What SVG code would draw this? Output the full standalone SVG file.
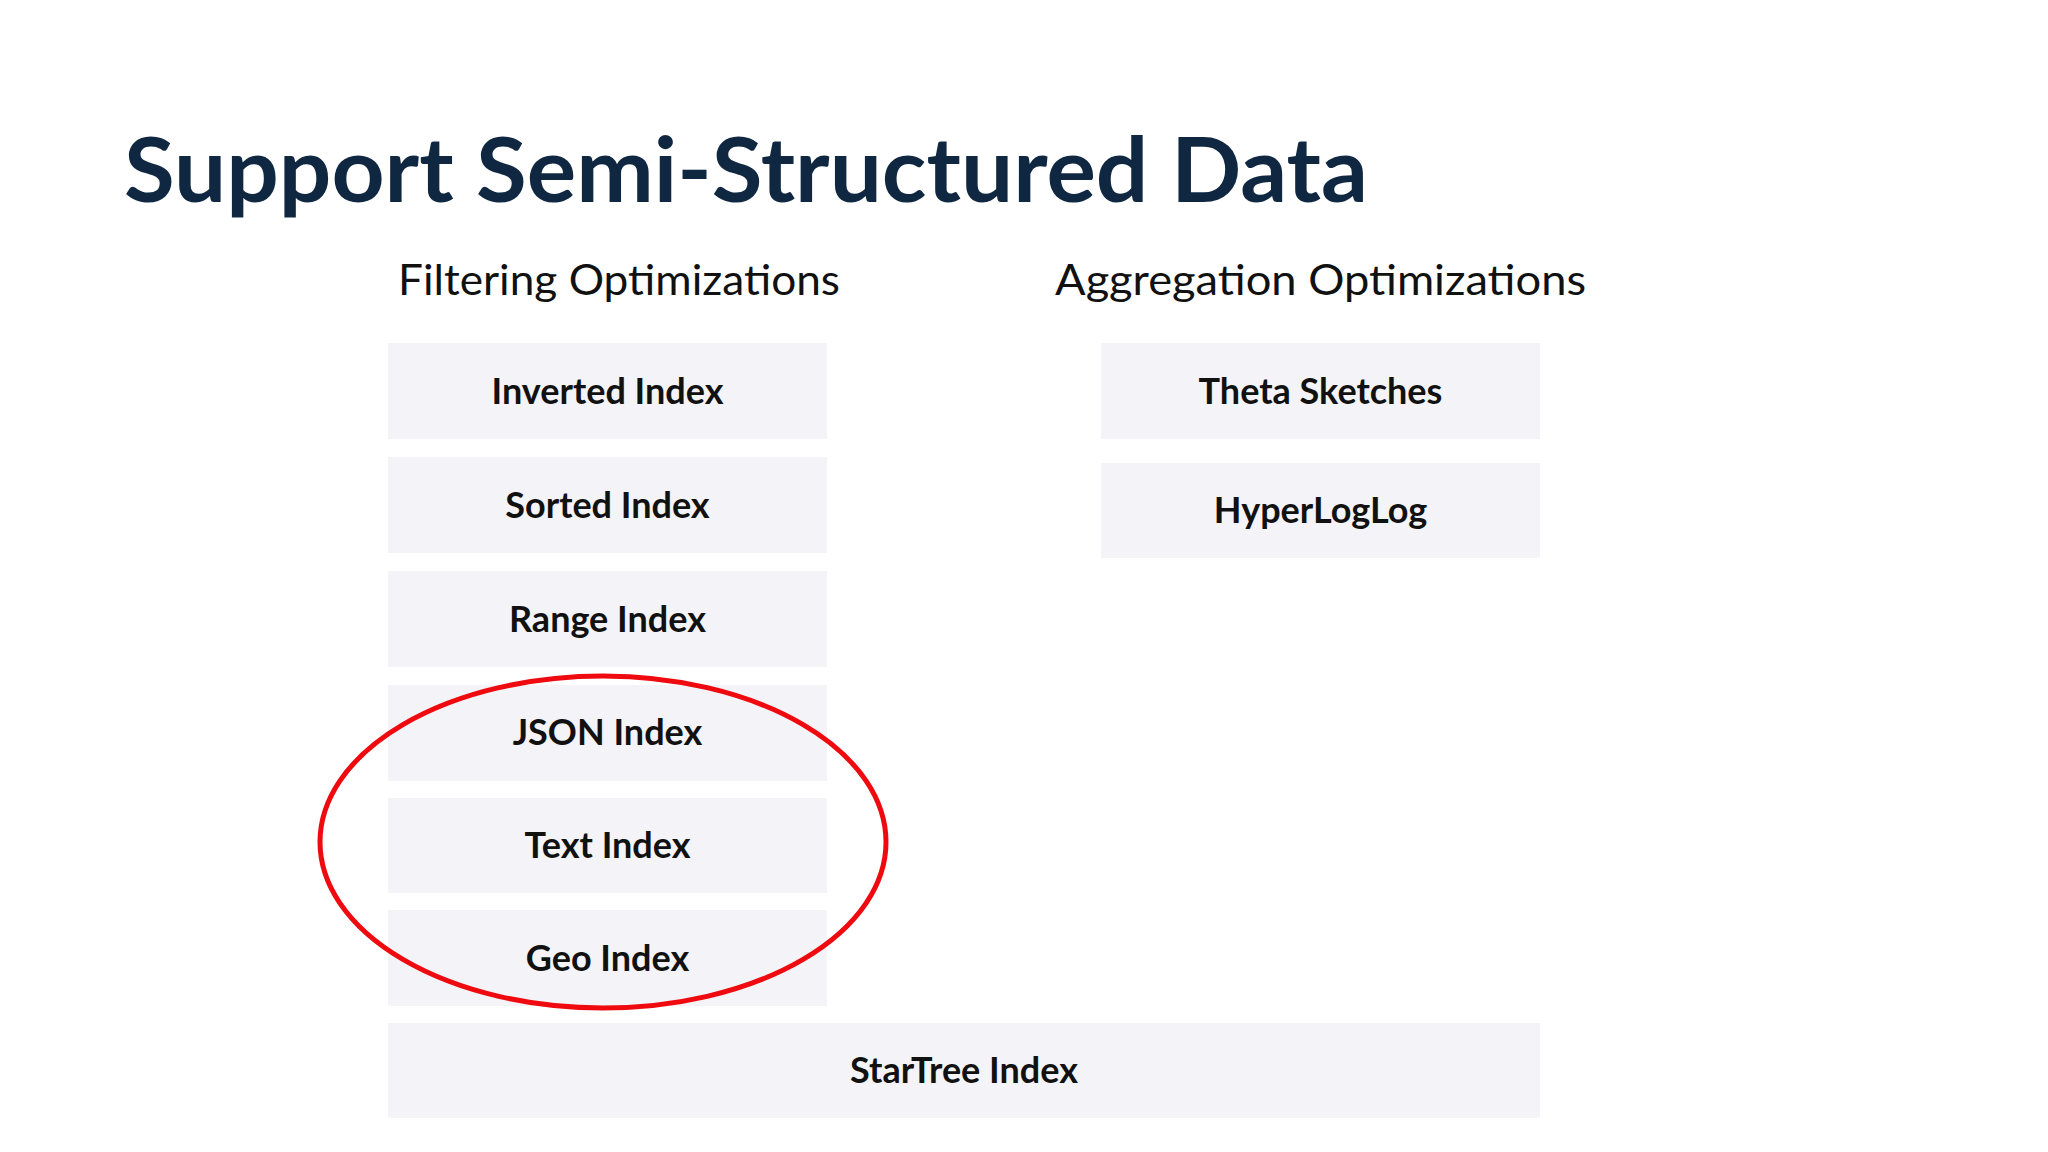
<svg xmlns="http://www.w3.org/2000/svg" width="2048" height="1152" viewBox="0 0 2048 1152">
<style>
.box{fill:#f4f3f7}
.lbl{font-family:Lato,"Noto Sans",sans-serif;font-weight:bold;font-size:36px;fill:#111;text-anchor:middle}
.hdr{font-family:Lato,"Noto Sans",sans-serif;font-size:43px;fill:#111}
.title{font-family:Lato,"Noto Sans",sans-serif;font-weight:bold;font-size:90px;fill:#0f2740}
</style>
<rect width="2048" height="1152" fill="#ffffff"/>
<text class="title" x="124" y="202" textLength="1244" lengthAdjust="spacingAndGlyphs">Support Semi-Structured Data</text>
<text class="hdr" x="398" y="295" textLength="442" lengthAdjust="spacingAndGlyphs">Filtering Optimizations</text>
<text class="hdr" x="1055" y="295" textLength="531" lengthAdjust="spacingAndGlyphs">Aggregation Optimizations</text>
<g id="inverted"><rect class="box" x="388" y="343" width="439" height="96"/><text class="lbl" x="607.5" y="404">Inverted Index</text></g>
<g id="sorted"><rect class="box" x="388" y="457" width="439" height="96"/><text class="lbl" x="607.5" y="518">Sorted Index</text></g>
<g id="range"><rect class="box" x="388" y="571" width="439" height="96"/><text class="lbl" x="607.5" y="632">Range Index</text></g>
<g id="json"><rect class="box" x="388" y="685" width="439" height="96"/><text class="lbl" x="607.5" y="745">JSON Index</text></g>
<g id="text"><rect class="box" x="388" y="798" width="439" height="95"/><text class="lbl" x="607.5" y="858">Text Index</text></g>
<g id="geo"><rect class="box" x="388" y="910" width="439" height="96"/><text class="lbl" x="607.5" y="971">Geo Index</text></g>
<g id="theta"><rect class="box" x="1101" y="343" width="439" height="96"/><text class="lbl" x="1320.5" y="404">Theta Sketches</text></g>
<g id="hll"><rect class="box" x="1101" y="463" width="439" height="95"/><text class="lbl" x="1320.5" y="523">HyperLogLog</text></g>
<g id="startree"><rect class="box" x="388" y="1023" width="1152" height="95"/><text class="lbl" x="964" y="1083">StarTree Index</text></g>
<g id="connectors"></g>
<g id="highlight"><ellipse cx="603" cy="842" rx="283" ry="166" fill="none" stroke="#ee0a0f" stroke-width="5"/></g>
</svg>
